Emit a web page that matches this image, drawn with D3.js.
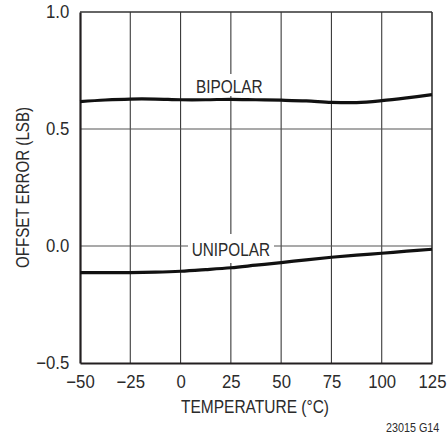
<!DOCTYPE html>
<html><head><meta charset="utf-8">
<script src="https://cdn.jsdelivr.net/npm/d3@7"></script>
<style>
body{margin:0;background:#fff;}
text{font-family:"Liberation Sans",Arial,sans-serif;fill:#2b2b2b;}
</style></head><body>
<svg id="c" width="447" height="435"></svg>
<script>
const temps = [-50, -37.5, -25, -12.5, 0, 12.5, 25, 37.5, 50, 62.5, 75, 87.5, 100, 112.5, 125];
const bipolar = [0.617, 0.624, 0.628, 0.628, 0.625, 0.625, 0.627, 0.625, 0.623, 0.620, 0.614, 0.613, 0.621, 0.633, 0.647];
const unipolar = [-0.114, -0.114, -0.114, -0.112, -0.108, -0.101, -0.093, -0.082, -0.071, -0.059, -0.048, -0.039, -0.031, -0.022, -0.014];
const xTicks = [-50, -25, 0, 25, 50, 75, 100, 125];
const yTicks = [-0.5, 0.0, 0.5, 1.0];
const xTitle = "TEMPERATURE (°C)";
const yTitle = "OFFSET ERROR (LSB)";
const note = "23015 G14";

const L = 80, R = 432, T = 12, B = 363;
const svg = d3.select("#c");
const x = d3.scaleLinear().domain([-50, 125]).range([L, R]);
const y = d3.scaleLinear().domain([-0.5, 1.0]).range([B, T]);
const fmtY = d => (d < 0 ? "\u2212" : "") + Math.abs(d).toFixed(1);
const fmtX = d => (d < 0 ? "\u2212" : "") + Math.abs(d);

// grid
const g = svg.append("g");
g.selectAll(".vx").data(xTicks.slice(1, -1)).join("line")
  .attr("x1", d => x(d)).attr("x2", d => x(d)).attr("y1", T).attr("y2", B)
  .attr("stroke", "#3a3a3a").attr("stroke-width", 1.1);
g.selectAll(".hy").data(yTicks.slice(1, -1)).join("line")
  .attr("x1", L).attr("x2", R).attr("y1", d => y(d)).attr("y2", d => y(d))
  .attr("stroke", "#555").attr("stroke-width", 1.1);
// top and right frame
svg.append("line").attr("x1", L).attr("x2", R).attr("y1", T).attr("y2", T).attr("stroke", "#333").attr("stroke-width", 1.6);
svg.append("line").attr("x1", R).attr("x2", R).attr("y1", T).attr("y2", B).attr("stroke", "#333").attr("stroke-width", 1.6);

// curve label backings (white gaps in gridlines)
function labelBox(cx, y0, y1, w) {
  svg.append("rect").attr("x", cx - w / 2).attr("y", y0).attr("width", w).attr("height", y1 - y0).attr("fill", "#fff");
}
labelBox(229.5, 74, 96, 76);
labelBox(231, 234, 263, 86);

// axes
const xAxis = svg.append("g").attr("transform", `translate(0,${B})`)
  .call(d3.axisBottom(x).tickValues(xTicks).tickFormat(fmtX).tickSize(0).tickPadding(12.2));
const yAxis = svg.append("g").attr("transform", `translate(${L},0)`)
  .call(d3.axisLeft(y).tickValues(yTicks).tickFormat(fmtY).tickSize(0).tickPadding(11.5));
[xAxis, yAxis].forEach(a => {
  a.select(".domain").attr("stroke", "#231f20").attr("stroke-width", 2.2);
  a.selectAll("text").style("font-size", "18px").attr("fill", "#2b2b2b")
    .attr("transform", "scale(0.93,1)");
});

// squeezed text helper
function txt(s, x0, yb, size, len, rot) {
  const t = svg.append("text").style("font-size", size + "px")
    .attr("textLength", len).attr("lengthAdjust", "spacingAndGlyphs").text(s);
  if (rot) t.attr("transform", `translate(${x0},${yb}) rotate(-90)`).attr("x", -len / 2).attr("y", 0);
  else t.attr("x", x0).attr("y", yb);
  return t;
}
txt("BIPOLAR", 196, 92.7, 17.8, 66.7);
txt("UNIPOLAR", 191.7, 256, 17.8, 78.3);

// curves
const line = d3.line().curve(d3.curveCatmullRom.alpha(0.5));
svg.append("path").attr("d", line(temps.map((t, i) => [x(t), y(bipolar[i])])))
  .attr("fill", "none").attr("stroke", "#111").attr("stroke-width", 3.2);
svg.append("path").attr("d", line(temps.map((t, i) => [x(t), y(unipolar[i])])))
  .attr("fill", "none").attr("stroke", "#111").attr("stroke-width", 3.2);

// titles
txt(xTitle, 181, 413, 18.5, 148);
txt(yTitle, 28.5, 187.5, 18.5, 161, true);
txt(note, 386, 431.7, 12.5, 53.3);
</script>
</body></html>
